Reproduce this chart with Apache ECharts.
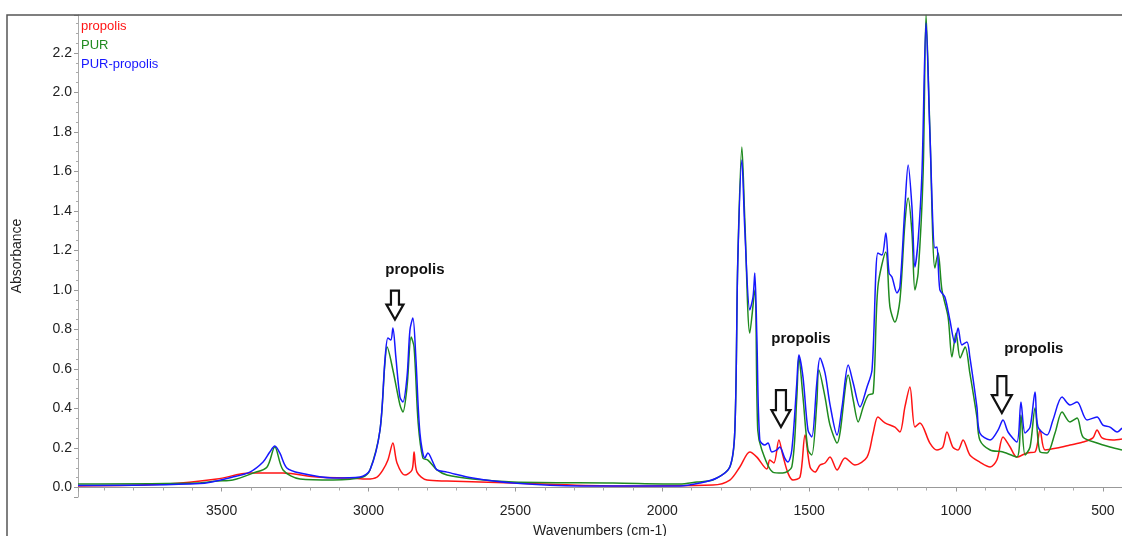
<!DOCTYPE html>
<html>
<head>
<meta charset="utf-8">
<title>FTIR spectra</title>
<script src="https://cdn.jsdelivr.net/npm/echarts@6/dist/echarts.min.js"></script>
<style>
  html, body { margin: 0; padding: 0; background: #fff; overflow: hidden; }
  #chart { width: 1122px; height: 536px; }
</style>
</head>
<body>
<div id="chart"></div>
<script>
// FTIR absorbance spectra: [wavenumber (cm-1), absorbance]
const propolis = [
  [3989,0.008],[3686,0.018],[3516,0.043],[3404,0.073],[3291,0.073],[3176,0.053],
  [3063,0.048],[3005,0.043],[2971,0.053],[2951,0.089],[2934,0.139],[2917,0.225],
  [2903,0.124],[2876,0.063],[2852,0.089],[2845,0.18],[2835,0.078],[2801,0.038],
  [2733,0.033],[2508,0.023],[2168,0.008],[1828,0.013],[1770,0.038],[1736,0.104],
  [1702,0.18],[1678,0.154],[1644,0.094],[1634,0.139],[1620,0.124],[1603,0.24],
  [1590,0.165],[1572,0.073],[1555,0.038],[1531,0.053],[1514,0.266],[1497,0.104],
  [1480,0.078],[1463,0.114],[1446,0.124],[1429,0.154],[1405,0.089],[1378,0.149],
  [1344,0.114],[1303,0.154],[1282,0.276],[1266,0.357],[1242,0.327],[1208,0.306],
  [1191,0.281],[1174,0.408],[1157,0.509],[1140,0.306],[1123,0.327],[1089,0.225],
  [1065,0.19],[1045,0.205],[1031,0.281],[1011,0.205],[993,0.19],[976,0.241],
  [953,0.165],[919,0.129],[884,0.104],[861,0.139],[840,0.256],[816,0.205],
  [793,0.154],[759,0.175],[731,0.18],[714,0.291],[697,0.19],[656,0.2],
  [612,0.215],[568,0.23],[534,0.251],[520,0.291],[503,0.251],[466,0.241],[435,0.246]
];

const pur = [
  [3989,0.018],[3574,0.023],[3516,0.033],[3462,0.038],[3393,0.073],[3346,0.103],
  [3319,0.205],[3291,0.089],[3233,0.043],[3121,0.038],[3019,0.053],[2995,0.089],
  [2961,0.29],[2944,0.635],[2937,0.711],[2917,0.595],[2893,0.418],[2883,0.382],
  [2869,0.509],[2855,0.762],[2845,0.711],[2831,0.327],[2815,0.149],[2798,0.139],
  [2767,0.089],[2733,0.063],[2645,0.043],[2508,0.028],[2168,0.023],[1940,0.018],
  [1882,0.028],[1828,0.038],[1770,0.104],[1753,0.29],[1743,1.15],[1729,1.724],
  [1719,1.354],[1702,0.782],[1685,1.0],[1675,0.291],[1661,0.19],[1624,0.078],
  [1590,0.073],[1559,0.104],[1542,0.458],[1535,0.661],[1521,0.458],[1504,0.19],
  [1491,0.165],[1474,0.428],[1467,0.595],[1446,0.458],[1429,0.316],[1405,0.225],
  [1367,0.57],[1350,0.443],[1333,0.332],[1316,0.408],[1299,0.468],[1282,0.478],
  [1266,1.015],[1239,1.192],[1225,0.914],[1208,0.838],[1191,0.949],[1174,1.339],
  [1163,1.466],[1150,1.289],[1140,1.0],[1129,1.086],[1112,1.592],[1102,2.392],
  [1089,1.81],[1072,1.111],[1061,1.187],[1048,1.0],[1027,0.863],[1014,0.661],
  [1000,0.782],[986,0.656],[969,0.711],[953,0.58],[929,0.357],[919,0.241],
  [884,0.19],[840,0.18],[793,0.154],[779,0.367],[765,0.165],[748,0.205],
  [731,0.403],[714,0.18],[690,0.175],[663,0.276],[639,0.382],[612,0.332],
  [588,0.352],[568,0.256],[520,0.225],[476,0.205],[435,0.19]
];

const purPropolis = [
  [3989,0.01],[3574,0.02],[3462,0.053],[3404,0.078],[3359,0.129],[3336,0.18],
  [3319,0.21],[3302,0.175],[3278,0.099],[3233,0.073],[3121,0.048],[3029,0.053],
  [2995,0.089],[2961,0.29],[2944,0.646],[2934,0.757],[2924,0.747],[2917,0.808],
  [2907,0.661],[2893,0.458],[2883,0.433],[2869,0.56],[2859,0.797],[2849,0.858],
  [2839,0.661],[2825,0.276],[2808,0.149],[2798,0.175],[2781,0.129],[2767,0.089],
  [2733,0.078],[2645,0.048],[2508,0.023],[2280,0.008],[1940,0.008],[1872,0.023],
  [1814,0.048],[1770,0.104],[1753,0.29],[1743,1.137],[1729,1.658],[1719,1.304],
  [1702,0.899],[1691,0.965],[1685,1.086],[1678,0.762],[1668,0.24],[1651,0.215],
  [1640,0.225],[1627,0.18],[1610,0.19],[1600,0.205],[1583,0.149],[1572,0.129],
  [1559,0.19],[1542,0.529],[1535,0.671],[1521,0.559],[1504,0.291],[1491,0.256],
  [1474,0.529],[1463,0.656],[1446,0.58],[1429,0.42],[1405,0.266],[1388,0.408],
  [1367,0.62],[1350,0.529],[1327,0.408],[1303,0.509],[1286,0.595],[1266,1.187],
  [1252,1.177],[1239,1.289],[1228,1.086],[1218,1.066],[1201,0.985],[1191,1.015],
  [1174,1.42],[1163,1.633],[1150,1.42],[1140,1.116],[1129,1.253],[1116,1.592],
  [1102,2.352],[1089,1.795],[1072,1.213],[1065,1.218],[1055,1.0],[1038,0.965],
  [1021,0.848],[1004,0.732],[993,0.808],[980,0.722],[963,0.737],[953,0.661],
  [929,0.408],[919,0.276],[884,0.241],[857,0.291],[840,0.342],[823,0.281],
  [793,0.23],[779,0.433],[765,0.276],[748,0.306],[731,0.484],[721,0.306],
  [690,0.266],[670,0.342],[639,0.458],[612,0.418],[588,0.433],[554,0.342],
  [520,0.357],[500,0.316],[476,0.306],[452,0.281],[435,0.301]
];

// Series names and colours
const seriesNames = ['propolis', 'PUR', 'PUR-propolis'];
const seriesColors = ['#ff1414', '#1f8a1f', '#1717ff'];

// Callouts: label position and arrow tip, in data units
const calloutLabels = [[2842, 1.10], [1528, 0.752], [735, 0.70]];
const calloutArrows = [[2910, 0.85], [1596, 0.306], [844, 0.377]];
const calloutText = 'propolis';

const FONT = 'Liberation Sans, Arial, sans-serif';
const chart = echarts.init(document.getElementById('chart'), null, { renderer: 'canvas' });

const lines = [propolis, pur, purPropolis].map((d, i) => ({
  name: seriesNames[i],
  type: 'line',
  data: d,
  showSymbol: false,
  smooth: 0.3,
  lineStyle: { color: seriesColors[i], width: 1.5 },
  itemStyle: { color: seriesColors[i] },
  z: 2 + i,
  animation: false
}));

chart.setOption({
  animation: false,
  backgroundColor: '#ffffff',
  grid: { left: 78, right: 0, top: 15, bottom: 39, containLabel: false, outerBoundsMode: 'none' },
  legend: {
    orient: 'vertical',
    left: 74,
    top: 15,
    itemWidth: 0,
    itemHeight: 12,
    itemGap: 6,
    icon: 'rect',
    selectedMode: false,
    data: seriesNames.map((n, i) => ({ name: n, textStyle: { color: seriesColors[i] } })),
    textStyle: { fontFamily: FONT, fontSize: 13, padding: [0, 0, 0, -3] }
  },
  xAxis: {
    type: 'value',
    inverse: true,
    min: 435,
    max: 3989,
    splitNumber: 7,
    name: 'Wavenumbers (cm-1)',
    nameLocation: 'middle',
    nameGap: 27,
    nameTextStyle: { fontFamily: FONT, fontSize: 14, color: '#222' },
    axisLine: { show: true, lineStyle: { color: '#999', width: 1 } },
    axisTick: { show: true, length: 4, lineStyle: { color: '#999' } },
    minorTick: { show: true, splitNumber: 5, length: 3, lineStyle: { color: '#aaa' } },
    axisLabel: {
      fontFamily: FONT, fontSize: 14, color: '#222', margin: 7,
      formatter: v => (Math.abs(v % 500) < 1e-6 ? String(v) : '')
    },
    splitLine: { show: false }
  },
  yAxis: {
    type: 'value',
    min: -0.048,
    max: 2.392,
    splitNumber: 12,
    name: 'Absorbance',
    nameLocation: 'middle',
    nameGap: 54,
    nameTextStyle: { fontFamily: FONT, fontSize: 14, color: '#222' },
    axisLine: { show: true, lineStyle: { color: '#aaa', width: 1 } },
    axisTick: { show: true, length: 4, lineStyle: { color: '#999' } },
    minorTick: { show: true, splitNumber: 4, length: 2, lineStyle: { color: '#aaa' } },
    axisLabel: {
      fontFamily: FONT, fontSize: 14, color: '#222', margin: 6,
      formatter: v => {
        const k = Math.round(v * 5);
        return Math.abs(v * 5 - k) < 1e-6 && v >= 0 ? v.toFixed(1) : '';
      }
    },
    splitLine: { show: false }
  },
  series: lines
});

// Frame, callout labels and hollow arrows
function arrowPoints(tip, h, hh, hw, sw) {
  const [x, y] = tip;
  return [
    [x - sw, y - h], [x + sw, y - h], [x + sw, y - hh], [x + hw, y - hh],
    [x, y], [x - hw, y - hh], [x - sw, y - hh]
  ];
}
const arrowSizes = [[29, 15, 8.5, 4], [37, 17, 9.5, 5], [37, 18, 10, 4.5]];
const graphics = [{
  type: 'rect',
  shape: { x: 7, y: 15, width: 1200, height: 600 },
  style: { fill: 'none', stroke: '#555', lineWidth: 1.5 },
  silent: true, z: 10
}];
calloutLabels.forEach((p) => {
  const px = chart.convertToPixel({ gridIndex: 0 }, p);
  graphics.push({
    type: 'text', x: px[0], y: px[1], z: 11,
    style: {
      text: calloutText, fontFamily: FONT, fontSize: 15, fontWeight: 'bold',
      fill: '#111', textAlign: 'center', textVerticalAlign: 'middle'
    }
  });
});
calloutArrows.forEach((p, i) => {
  const px = chart.convertToPixel({ gridIndex: 0 }, p);
  const [h, hh, hw, sw] = arrowSizes[i];
  graphics.push({
    type: 'polygon', z: 11,
    shape: { points: arrowPoints(px, h, hh, hw, sw) },
    style: { fill: '#fff', stroke: '#111', lineWidth: 2.2, lineJoin: 'miter' }
  });
});
chart.setOption({ graphic: graphics });
</script>
</body>
</html>
